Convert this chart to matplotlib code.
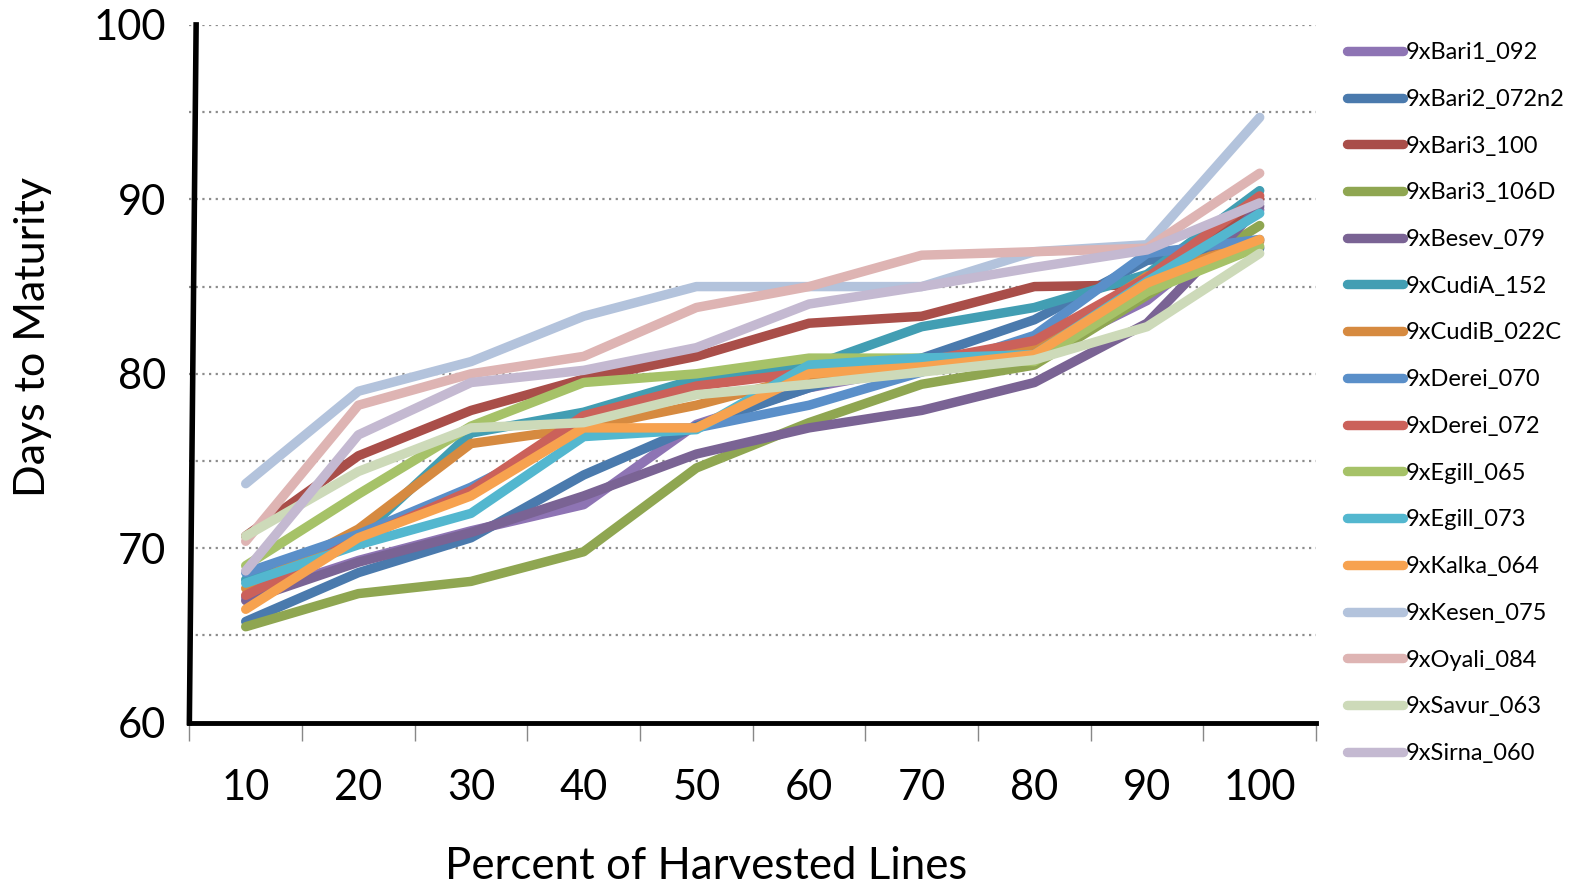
import numpy as np
import matplotlib
matplotlib.use("Agg")
import matplotlib.pyplot as plt
from matplotlib.ticker import MultipleLocator

plt.rcParams['font.family'] = ['Lato', 'DejaVu Sans']

# data
pct = [10, 20, 30, 40, 50, 60, 70, 80, 90, 100]
names = ['9xBari1_092', '9xBari2_072n2', '9xBari3_100', '9xBari3_106D', '9xBesev_079',
         '9xCudiA_152', '9xCudiB_022C', '9xDerei_070', '9xDerei_072', '9xEgill_065',
         '9xEgill_073', '9xKalka_064', '9xKesen_075', '9xOyali_084', '9xSavur_063',
         '9xSirna_060']
Bari1_092 = [67.2, 69.3, 71.0, 72.5, 77.1, 79.2, 80.4, 81.0, 84.2, 89.4]
Bari2_072n2 = [65.8, 68.6, 70.6, 74.2, 77.0, 79.2, 80.9, 83.1, 86.5, 87.2]
Bari3_100 = [70.7, 75.3, 77.9, 79.7, 81.0, 82.9, 83.3, 85.0, 85.1, 90.0]
Bari3_106D = [65.5, 67.4, 68.1, 69.8, 74.6, 77.2, 79.4, 80.5, 84.5, 88.5]
Besev_079 = [67.0, 69.2, 70.9, 73.0, 75.4, 76.9, 77.9, 79.5, 82.9, 89.6]
CudiA_152 = [68.2, 70.6, 76.6, 77.8, 79.7, 80.4, 82.7, 83.8, 85.7, 90.5]
CudiB_022C = [67.7, 71.1, 76.0, 76.9, 78.2, 79.9, 80.5, 81.5, 85.6, 87.6]
Derei_070 = [68.6, 70.8, 73.5, 76.8, 76.9, 78.2, 80.1, 82.2, 86.9, 87.7]
Derei_072 = [67.3, 70.5, 73.3, 77.6, 79.3, 80.1, 80.7, 81.9, 85.5, 90.2]
Egill_065 = [69.0, 73.1, 77.0, 79.5, 80.0, 80.9, 80.9, 80.7, 84.7, 87.3]
Egill_073 = [68.0, 70.2, 72.0, 76.4, 76.8, 80.5, 80.9, 81.1, 85.3, 89.2]
Kalka_064 = [66.5, 70.6, 73.0, 76.9, 76.9, 80.0, 80.4, 81.1, 85.2, 87.7]
Kesen_075 = [73.7, 79.0, 80.7, 83.3, 85.0, 85.0, 85.0, 87.0, 87.4, 94.7]
Oyali_084 = [70.4, 78.2, 80.0, 81.0, 83.8, 85.0, 86.8, 87.0, 87.2, 91.5]
Savur_063 = [70.7, 74.4, 76.9, 77.2, 78.8, 79.4, 80.1, 80.8, 82.7, 86.9]
Sirna_060 = [68.7, 76.5, 79.5, 80.2, 81.5, 84.0, 85.0, 86.1, 87.1, 89.8]
series = [Bari1_092, Bari2_072n2, Bari3_100, Bari3_106D, Besev_079, CudiA_152,
          CudiB_022C, Derei_070, Derei_072, Egill_065, Egill_073, Kalka_064,
          Kesen_075, Oyali_084, Savur_063, Sirna_060]
colors = ['#8E74B4', '#4A7AAD', '#A94E49', '#8FA651', '#7A6394', '#429EB3',
          '#D68A40', '#5A8FC9', '#CB615A', '#A6C268', '#53B7CF', '#F7A24F',
          '#B3C3DC', '#DEB4B3', '#CDDAB9', '#C4B9D1']

fig = plt.figure(figsize=(15.78, 8.90), dpi=100, facecolor='white')
ax = fig.add_axes([0.120, 0.188, 0.714, 0.784])

xpos = np.arange(1, len(pct) + 1)
for vals, nm, c in zip(series, names, colors):
    ax.plot(xpos, vals, color=c, lw=6.8, label=nm, solid_capstyle='round',
            solid_joinstyle='round')

ax.set_xlim(0.5, len(pct) + 0.5)
ax.set_ylim(60, 100)

# gridlines every 5, labels every 10
ax.yaxis.set_major_locator(MultipleLocator(10))
ax.yaxis.set_minor_locator(MultipleLocator(5))
ax.grid(True, which='both', axis='y', color='#8c8c8c', lw=1.6, ls=(0, (1, 2)))
ax.set_axisbelow(True)
ax.tick_params(axis='y', which='both', length=0, labelsize=30, pad=16.5)

ax.set_xticks(np.arange(0.5, len(pct) + 1), labels=[''] * (len(pct) + 1))
ax.set_xticks(xpos, labels=[str(p) for p in pct], minor=True)
ax.tick_params(axis='x', which='major', length=13, width=1, color='#888888', direction='out')
ax.tick_params(axis='x', which='minor', length=0, labelsize=30, pad=33)

for s in ['top', 'right', 'left']:
    ax.spines[s].set_visible(False)
ax.spines['bottom'].set_linewidth(3.5)
# slightly slanted y axis line like the original
ax.plot([0.0, 0.006], [0.0, 1.0], color='black', lw=4, transform=ax.transAxes, clip_on=False)

ax.set_xlabel('Percent of Harvested Lines', fontsize=31.5)
ax.xaxis.set_label_coords(0.459, -0.206)
ax.xaxis.label.set_verticalalignment('center')
ax.set_ylabel('Days to Maturity', fontsize=31)
ax.yaxis.set_label_coords(-0.139, 0.553)
ax.yaxis.label.set_verticalalignment('center')
ax.yaxis.label.set_horizontalalignment('center')

leg = fig.legend(loc='upper left', bbox_to_anchor=(0.846, 0.966), frameon=False,
                 fontsize=17, handlelength=2.4, handletextpad=0.1,
                 labelspacing=1.09, borderpad=0)

fig.savefig('out.png', dpi=100)
